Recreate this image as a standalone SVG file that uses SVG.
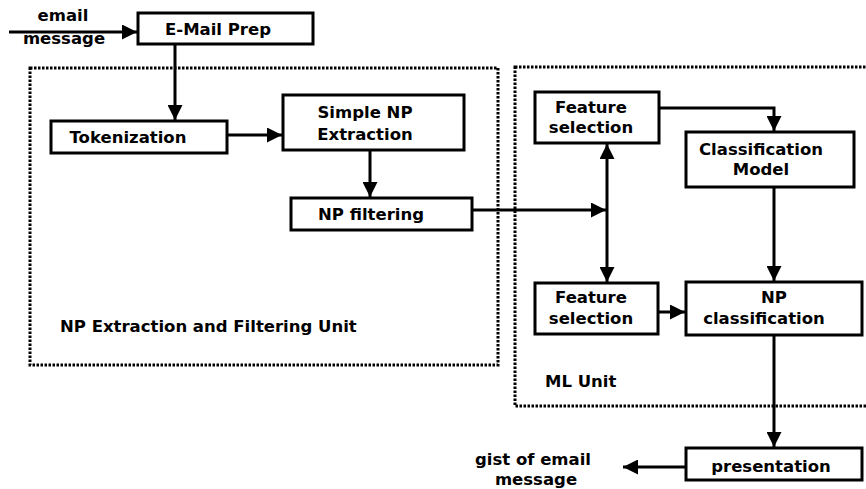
<svg xmlns="http://www.w3.org/2000/svg" width="866" height="489" viewBox="0 0 866 489">
<defs>
<style>
.box{fill:#fff;stroke:#000;stroke-width:3}
.unit{fill:none;stroke:#000;stroke-width:3;stroke-dasharray:2.5 1.5}
.t{font-family:"DejaVu Sans",Verdana,sans-serif;font-weight:bold;font-size:16.5px;fill:#000}
.c{text-anchor:middle}
.ln{fill:none;stroke:#000;stroke-width:3}
</style>
<marker id="ah" viewBox="0 0 10 10" refX="10" refY="5" markerWidth="5" markerHeight="5" orient="auto" markerUnits="strokeWidth">
<path d="M0,0 L10,5 L0,10 z" fill="#000"/>
</marker>
</defs>
<rect width="866" height="489" fill="#fff"/>
<g id="np-unit">
<rect class="unit" x="30" y="68" width="468" height="297"/>
<text class="t" x="60" y="332">NP Extraction and Filtering Unit</text>
</g>
<g id="ml-unit">
<rect class="unit" x="515" y="67" width="360" height="339"/>
<text class="t" x="545" y="387">ML Unit</text>
</g>
<g id="connectors">
<line class="ln" x1="9" y1="32" x2="137" y2="32" marker-end="url(#ah)"/>
<line class="ln" x1="175" y1="44" x2="175" y2="120" marker-end="url(#ah)"/>
<line class="ln" x1="227" y1="135" x2="282" y2="135" marker-end="url(#ah)"/>
<line class="ln" x1="370" y1="150" x2="370" y2="197" marker-end="url(#ah)"/>
<line class="ln" x1="472" y1="210" x2="606" y2="210" marker-end="url(#ah)"/>
<line class="ln" x1="607" y1="210" x2="607" y2="144" marker-end="url(#ah)"/>
<line class="ln" x1="607" y1="210" x2="607" y2="282" marker-end="url(#ah)"/>
<polyline class="ln" points="659,108 774,108 774,131" marker-end="url(#ah)"/>
<line class="ln" x1="774" y1="187" x2="774" y2="281" marker-end="url(#ah)"/>
<line class="ln" x1="658" y1="312" x2="685" y2="312" marker-end="url(#ah)"/>
<line class="ln" x1="774" y1="335" x2="774" y2="447" marker-end="url(#ah)"/>
<line class="ln" x1="686" y1="467" x2="623" y2="467" marker-end="url(#ah)"/>
</g>
<g id="input">
<text class="t c" x="63" y="21">email</text>
<text class="t c" x="64" y="44">message</text>
</g>
<g id="email-prep">
<rect class="box" x="138" y="13" width="175" height="31"/>
<text class="t c" x="218" y="35">E-Mail Prep</text>
</g>
<g id="tokenization">
<rect class="box" x="51" y="121" width="176" height="32"/>
<text class="t c" x="128" y="143">Tokenization</text>
</g>
<g id="simple-np">
<rect class="box" x="283" y="95" width="181" height="55"/>
<text class="t c" x="365" y="118">Simple NP</text>
<text class="t c" x="365" y="140">Extraction</text>
</g>
<g id="np-filtering">
<rect class="box" x="291" y="198" width="181" height="32"/>
<text class="t c" x="371" y="220">NP filtering</text>
</g>
<g id="feature-top">
<rect class="box" x="535" y="92" width="124" height="51"/>
<text class="t c" x="591" y="113">Feature</text>
<text class="t c" x="591" y="133">selection</text>
</g>
<g id="class-model">
<rect class="box" x="686" y="132" width="168" height="55"/>
<text class="t c" x="761" y="155">Classification</text>
<text class="t c" x="761" y="175">Model</text>
</g>
<g id="feature-bottom">
<rect class="box" x="535" y="283" width="123" height="51"/>
<text class="t c" x="591" y="303">Feature</text>
<text class="t c" x="591" y="324">selection</text>
</g>
<g id="np-class">
<rect class="box" x="686" y="282" width="176" height="53"/>
<text class="t c" x="774" y="303">NP</text>
<text class="t c" x="764" y="324">classification</text>
</g>
<g id="presentation">
<rect class="box" x="686" y="448" width="176" height="32"/>
<text class="t c" x="771" y="472">presentation</text>
</g>
<g id="output">
<text class="t c" x="533" y="465">gist of email</text>
<text class="t c" x="536" y="485">message</text>
</g>
</svg>
